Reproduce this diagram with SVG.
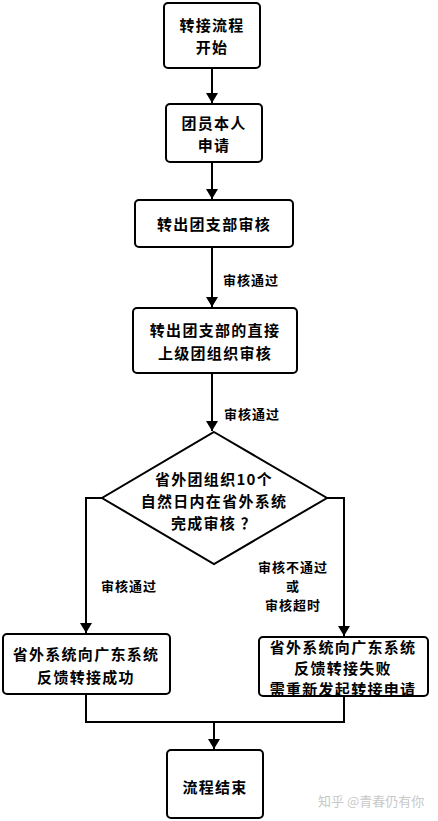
<svg xmlns="http://www.w3.org/2000/svg" width="438" height="821" viewBox="0 0 438 821">
<defs>
<marker id="ah" viewBox="0 0 10 12" refX="10" refY="6" markerWidth="10" markerHeight="12" markerUnits="userSpaceOnUse" orient="auto">
<path d="M0,0 L10,6 L0,12 Z" fill="#000"/>
</marker>
<style>
.n{fill:#fff;stroke:#000;stroke-width:2}
.t{font-family:"Noto Sans CJK SC","Noto Sans",sans-serif;font-weight:bold;font-size:15px;letter-spacing:1.3px;fill:#000;text-anchor:middle;dominant-baseline:central}
.l{font-family:"Noto Sans CJK SC","Noto Sans",sans-serif;font-weight:bold;font-size:13px;letter-spacing:1px;fill:#000;text-anchor:middle;dominant-baseline:central}
.c{fill:none;stroke:#000;stroke-width:2}
.w{font-family:"Noto Sans CJK SC","Noto Sans",sans-serif;font-size:13px;fill:#c8c8c8;dominant-baseline:central}
</style>
</defs>
<rect width="438" height="821" fill="#fff"/>
<g id="connectors">
<path class="c" d="M212,68 V103" marker-end="url(#ah)"/>
<path class="c" d="M212,162 V199" marker-end="url(#ah)"/>
<path class="c" d="M212,247 V307" marker-end="url(#ah)"/>
<path class="c" d="M212,373 V431" marker-end="url(#ah)"/>
<path class="c" d="M102,498 H86 V633" marker-end="url(#ah)"/>
<path class="c" d="M327,498 H344 V636" marker-end="url(#ah)"/>
<path class="c" d="M86,694 V722 H344 V696"/>
<path class="c" d="M214,722 V749" marker-end="url(#ah)"/>
<text class="l" x="251" y="279">审核通过</text>
<text class="l" x="252" y="413">审核通过</text>
<text class="l" x="129" y="585">审核通过</text>
<text class="l" x="293" y="566">审核不通过</text>
<text class="l" x="293" y="585">或</text>
<text class="l" x="293" y="604">审核超时</text>
</g>
<g id="start">
<rect class="n" x="164" y="3" width="96" height="65" rx="4"/>
<text class="t" x="212" y="24">转接流程</text>
<text class="t" x="212" y="46">开始</text>
</g>
<g id="apply">
<rect class="n" x="166" y="104" width="96" height="58" rx="4"/>
<text class="t" x="214" y="122">团员本人</text>
<text class="t" x="214" y="144">申请</text>
</g>
<g id="branch-review">
<rect class="n" x="135" y="200" width="158" height="47" rx="4"/>
<text class="t" x="214" y="223">转出团支部审核</text>
</g>
<g id="upper-review">
<rect class="n" x="133" y="308" width="164" height="65" rx="4"/>
<text class="t" x="215" y="329">转出团支部的直接</text>
<text class="t" x="215" y="352">上级团组织审核</text>
</g>
<g id="decision">
<polygon class="n" points="214,432 327,498 214,564 102,498"/>
<text class="t" x="214" y="478">省外团组织10个</text>
<text class="t" x="214" y="500">自然日内在省外系统</text>
<text class="t" x="214" y="522">完成审核 ？</text>
</g>
<g id="success">
<rect class="n" x="3" y="634" width="167" height="60" rx="4"/>
<text class="t" x="86" y="653">省外系统向广东系统</text>
<text class="t" x="86" y="676">反馈转接成功</text>
</g>
<g id="fail">
<rect class="n" x="259" y="637" width="169" height="59" rx="4"/>
<text class="t" x="343" y="646">省外系统向广东系统</text>
<text class="t" x="343" y="667">反馈转接失败</text>
<text class="t" x="343" y="688">需重新发起转接申请</text>
</g>
<g id="end">
<rect class="n" x="167" y="750" width="96" height="68" rx="4"/>
<text class="t" x="215" y="786">流程结束</text>
</g>
<text class="w" x="318" y="800">知乎 @青春仍有你</text>
</svg>
